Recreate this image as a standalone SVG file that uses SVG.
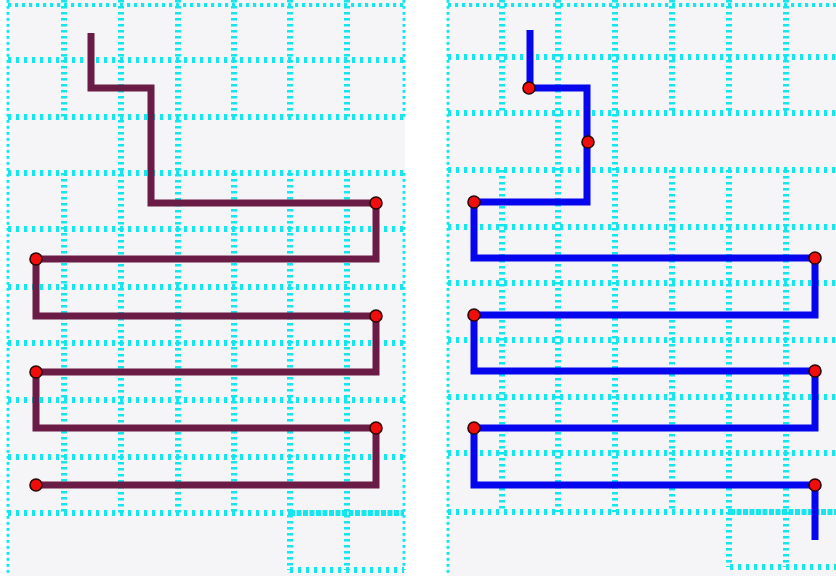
<svg xmlns="http://www.w3.org/2000/svg" width="836" height="576" viewBox="0 0 836 576">
<style>
.bg{fill:#f5f5f7}
.h{stroke:#14e6ee;stroke-width:6;stroke-dasharray:3.2 4.8;fill:none}
.v{stroke:#14e6ee;stroke-width:6;stroke-dasharray:2.6 3.4;fill:none}
.e{stroke:#14e6ee;stroke-width:3;stroke-dasharray:2.8 3.2;fill:none}
.t{stroke:#14e6ee;stroke-width:4;stroke-dasharray:3.2 3.8;fill:none}
.d{stroke:#14e6ee;stroke-width:6;stroke-dasharray:5 1.5;fill:none}
.p1{stroke:#6b1c46;stroke-width:7;fill:none;stroke-linejoin:miter;stroke-linecap:butt}
.p2{stroke:#0505ee;stroke-width:7;fill:none;stroke-linejoin:miter;stroke-linecap:butt}
.dot{fill:#f20d0d;stroke:#2a0505;stroke-width:1.6}
</style>
<rect width="836" height="576" fill="#ffffff"/>
<g id="left-panel">
<rect class="bg" x="7" y="0" width="398" height="576"/>
<path class="e" d="M8 0V576M404 0V117M404 173V570"/>
<path class="t" d="M8 5H404"/>
<path class="h" d="M8 60H404M8 117H404M8 173H404M8 229H404M8 287H404M8 343H404M8 400H404M8 457H404M8 513H290M290 570H404"/>
<path class="d" d="M290 513H404"/>
<path class="v" d="M64 0V117M64 173V513M121 0V513M178 0V513M234 0V117M234 173V513M290 0V117M290 173V570M347 0V117M347 173V570"/>
</g>
<g id="right-panel">
<rect class="bg" x="447" y="0" width="389" height="576"/>
<path class="e" d="M448 0V576"/>
<path class="t" d="M448 5H836"/>
<path class="h" d="M448 57H836M448 113H836M448 170H836M448 227H836M448 283H836M448 340H836M448 397H836M448 453H836M448 512H730M730 567H836"/>
<path class="d" d="M730 512H836"/>
<path class="v" d="M502 0V113M502 170V512M558 0V512M615 0V512M672 0V113M672 170V512M729 0V113M729 170V567M786 0V113M786 170V567"/>
</g>
<g id="connectors">
<path id="path-left" class="p1" d="M91 33V88H151V203H376V259H36V316H376V372H36V428H376V485H36"/>
<path id="path-right" class="p2" d="M530 30V88H587V202H474V258H815V315H474V371H815V428H474V485H815V540"/>
</g>
<g id="left-dots">
<circle id="l1" class="dot" cx="376" cy="203" r="6"/>
<circle id="l2" class="dot" cx="36" cy="259" r="6"/>
<circle id="l3" class="dot" cx="376" cy="316" r="6"/>
<circle id="l4" class="dot" cx="36" cy="372" r="6"/>
<circle id="l5" class="dot" cx="376" cy="428" r="6"/>
<circle id="l6" class="dot" cx="36" cy="485" r="6"/>
</g>
<g id="right-dots">
<circle id="r1" class="dot" cx="529" cy="88" r="6"/>
<circle id="r2" class="dot" cx="588" cy="142" r="6"/>
<circle id="r3" class="dot" cx="474" cy="202" r="6"/>
<circle id="r4" class="dot" cx="815" cy="258" r="6"/>
<circle id="r5" class="dot" cx="474" cy="315" r="6"/>
<circle id="r6" class="dot" cx="815" cy="371" r="6"/>
<circle id="r7" class="dot" cx="474" cy="428" r="6"/>
<circle id="r8" class="dot" cx="815" cy="485" r="6"/>
</g>
</svg>
